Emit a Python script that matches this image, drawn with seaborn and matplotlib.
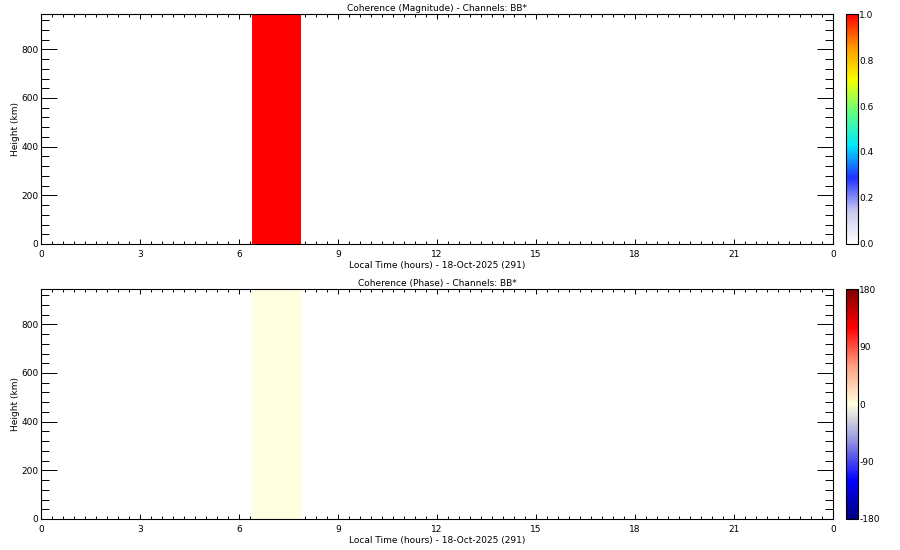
import numpy as np
import matplotlib
matplotlib.use("Agg")
import matplotlib.pyplot as plt
from matplotlib.ticker import MultipleLocator, FuncFormatter
import seaborn as sns

# data
time_edges = [6.4, 7.87]          # hours, edges of the only filled time bin
height_edges = [0, 945]           # km
magnitude = [[1.0]]
phase = [[0.0]]                   # degrees

x_ticks = [0, 3, 6, 9, 12, 15, 18, 21, 24]
y_ticks = [0, 200, 400, 600, 800]
mag_ticks = [0.0, 0.2, 0.4, 0.6, 0.8, 1.0]
phase_ticks = [-180, -90, 0, 90, 180]

xlabel = "Local Time (hours) - 18-Oct-2025 (291)"
titles = ["Coherence (Magnitude) - Channels: BB*", "Coherence (Phase) - Channels: BB*"]

sns.set_theme(style="ticks")
plt.rcParams['font.family'] = ['DejaVu Sans']
plt.rcParams['font.size'] = 6.5
plt.rcParams['axes.linewidth'] = 0.8
plt.rcParams['axes.edgecolor'] = 'black'
plt.rcParams['text.color'] = 'black'
plt.rcParams['axes.labelcolor'] = 'black'
plt.rcParams['xtick.color'] = 'black'
plt.rcParams['ytick.color'] = 'black'
plt.rcParams['axes.unicode_minus'] = False

# colour tables
mag_cmap = sns.blend_palette(["#ffffff", "#c8c8f0", "#2030ff", "#00e8ff", "#60ff80",
                              "#f8ff00", "#ff9800", "#ff0000"], as_cmap=True)
phase_cmap = sns.blend_palette(["#000080", "#0000ff", "#9090e0", "#ffffe0",
                                "#ffa080", "#ff0000", "#800000"], as_cmap=True)

fig = plt.figure(figsize=(9, 5.5), dpi=100)
ax1 = fig.add_axes([0.0456, 0.5564, 0.88, 0.4181])
ax2 = fig.add_axes([0.0456, 0.0564, 0.88, 0.4181])
cax1 = fig.add_axes([0.940, 0.5564, 0.0133, 0.4181])
cax2 = fig.add_axes([0.940, 0.0564, 0.0133, 0.4181])

T, H = np.meshgrid(time_edges, height_edges)
m1 = ax1.pcolormesh(T, H, np.array(magnitude), cmap=mag_cmap, vmin=0, vmax=1)
m2 = ax2.pcolormesh(T, H, np.array(phase), cmap=phase_cmap, vmin=-180, vmax=180)

for ax, title in zip([ax1, ax2], titles):
    ax.set_xlim(0, 24)
    ax.set_ylim(0, 945)
    ax.set_xticks(x_ticks)
    ax.xaxis.set_major_formatter(FuncFormatter(lambda v, p: "%d" % (int(round(v)) % 24)))
    ax.xaxis.set_minor_locator(MultipleLocator(1 / 3))
    ax.set_yticks(y_ticks)
    ax.yaxis.set_minor_locator(MultipleLocator(40))
    ax.tick_params(axis='x', which='major', direction='in', length=3.6, width=0.7,
                   top=True, pad=4, labelsize=6.5)
    ax.tick_params(axis='x', which='minor', direction='in', length=2, width=0.7, top=True)
    ax.tick_params(axis='y', which='major', direction='in', length=11.5, width=0.7,
                   right=True, pad=2, labelsize=6.5)
    ax.tick_params(axis='y', which='minor', direction='in', length=5.8, width=0.7, right=True)
    ax.set_xlabel(xlabel, fontsize=6.5, labelpad=2)
    ax.set_ylabel("Height (km)", fontsize=6.5, labelpad=1)
    ax.set_title(title, fontsize=6.5, pad=2)

cb1 = fig.colorbar(m1, cax=cax1, ticks=mag_ticks)
cb1.ax.yaxis.set_major_formatter(FuncFormatter(lambda v, p: "%.1f" % v))
cb1.ax.yaxis.set_minor_locator(MultipleLocator(0.1))
cb2 = fig.colorbar(m2, cax=cax2, ticks=phase_ticks)
cb2.ax.yaxis.set_minor_locator(MultipleLocator(45))
for cb in [cb1, cb2]:
    cb.outline.set_linewidth(0.8)
    cb.ax.tick_params(which='major', direction='in', length=2, width=0.7, pad=1, labelsize=6.5)
    cb.ax.tick_params(which='minor', direction='in', length=1.2, width=0.7)

fig.savefig("out.png", dpi=100)
